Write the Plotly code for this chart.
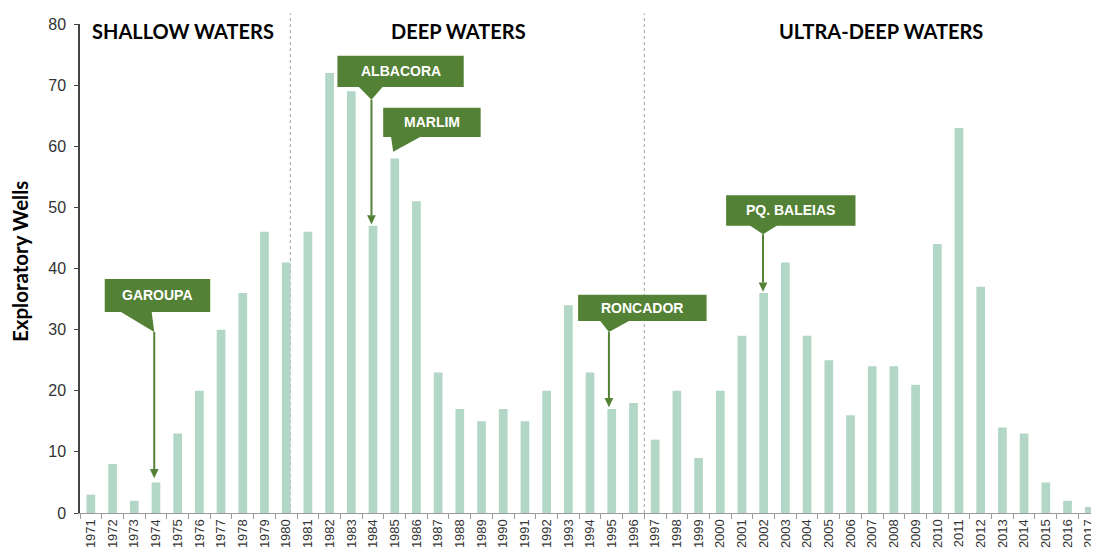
import plotly.graph_objects as go

years = [str(y) for y in range(1971, 2018)]
wells = [3, 8, 2, 5, 13, 20, 30, 36, 46, 41,
         46, 72, 69, 47, 58, 51, 23, 17, 15, 17,
         15, 20, 34, 23, 17, 18, 12, 20, 9, 20,
         29, 36, 41, 29, 25, 16, 24, 24, 21, 44,
         63, 37, 14, 13, 5, 2, 1]

era_labels = ["SHALLOW WATERS", "DEEP WATERS", "ULTRA-DEEP WATERS"]
era_label_x = [4.26, 16.95, 36.4]
era_dividers = [9.19, 25.5]

# callouts: label, box (x0,x1,y0,y1), tail base (xa,xb), apex (x,y), arrow tip y (None = no line)
callout_labels = ["GAROUPA", "ALBACORA", "MARLIM", "RONCADOR", "PQ. BALEIAS"]
callout_boxes = [(0.64, 5.50, 32.9, 38.3), (11.36, 17.18, 69.7, 74.8), (13.47, 17.96, 61.5, 66.3),
                 (22.45, 28.37, 31.4, 35.7), (29.27, 35.23, 47.0, 52.0)]
callout_tail_base = [(1.33, 2.80), (12.32, 13.47), (13.83, 15.21), (23.45, 24.83), (30.33, 31.66)]
callout_apex = [(2.92, 29.6), (12.93, 67.6), (13.93, 59.1), (23.87, 29.6), (30.97, 45.6)]
callout_tip = [5.7, 47.2, None, 17.3, 36.2]

BAR = "#b2d7c6"
GREEN = "#538135"

fig = go.Figure()
fig.add_trace(go.Bar(x=years, y=wells, marker_color=BAR, marker_line_width=0,
                     width=0.4, hoverinfo="x+y"))

shapes = []
annotations = []

for d in era_dividers:
    shapes.append(dict(type="line", xref="x", yref="paper", x0=d, x1=d, y0=0, y1=1.022,
                       line=dict(color="#a0a0a0", width=1, dash="dot"), layer="below"))

for lab, xc in zip(era_labels, era_label_x):
    annotations.append(dict(text=lab, xref="x", yref="paper", x=xc, y=0.986,
                            showarrow=False, xanchor="center", yanchor="middle",
                            font=dict(family="Lato", size=20, color="#000000", weight="bold")))

for lab, box, base, apex, tip in zip(callout_labels, callout_boxes, callout_tail_base,
                                     callout_apex, callout_tip):
    x0, x1, y0, y1 = box
    shapes.append(dict(type="rect", xref="x", yref="y", x0=x0, x1=x1, y0=y0, y1=y1,
                       fillcolor=GREEN, line=dict(width=0)))
    shapes.append(dict(type="path", xref="x", yref="y",
                       path=f"M {base[0]},{y0 + 0.1} L {base[1]},{y0 + 0.1} L {apex[0]},{apex[1]} Z",
                       fillcolor=GREEN, line=dict(width=0)))
    if tip is not None:
        hh = 1.5
        hw = 0.2
        shapes.append(dict(type="line", xref="x", yref="y", x0=apex[0], x1=apex[0],
                           y0=apex[1], y1=tip + hh, line=dict(color=GREEN, width=2)))
        shapes.append(dict(type="path", xref="x", yref="y",
                           path=f"M {apex[0] - hw},{tip + hh} L {apex[0] + hw},{tip + hh} L {apex[0]},{tip} Z",
                           fillcolor=GREEN, line=dict(width=0)))
    annotations.append(dict(text=lab, xref="x", yref="y", x=(x0 + x1) / 2, y=(y0 + y1) / 2,
                            showarrow=False, xanchor="center", yanchor="middle",
                            font=dict(family="Liberation Sans, Arial", size=14,
                                      color="#ffffff", weight="bold")))

annotations.append(dict(text="Exploratory Wells", xref="paper", yref="paper",
                        x=-0.059, y=0.515, textangle=-90, showarrow=False,
                        xanchor="center", yanchor="middle",
                        font=dict(family="Lato", size=20.5, color="#000000", weight="bold")))

# page body has an 8px default margin: offset the figure to compensate
fig.update_layout(
    template="none",
    width=1099, height=552,
    margin=dict(l=72, r=8, t=16, b=47, autoexpand=False),
    paper_bgcolor="#ffffff", plot_bgcolor="#ffffff",
    showlegend=False,
    shapes=shapes,
    annotations=annotations,
    bargap=0.6,
    xaxis=dict(type="category", range=[-0.5, 46.45], showgrid=False, zeroline=False,
               showline=True, linecolor="#9a9a9a", linewidth=1,
               ticks="outside", tickson="boundaries", ticklen=5, tickcolor="#9a9a9a",
               tickangle=-90, automargin=False,
               tickfont=dict(family="Liberation Sans, Arial", size=13, color="#333333")),
    yaxis=dict(range=[0, 80], tickvals=list(range(0, 81, 10)), showgrid=False,
               zeroline=False, showline=True, linecolor="#444444", linewidth=1.5,
               ticks="outside", ticklen=4, tickcolor="#444444", automargin=False,
               ticklabelstandoff=5,
               tickfont=dict(family="Liberation Sans, Arial", size=16, color="#333333")),
)

fig.write_html("out.html")
